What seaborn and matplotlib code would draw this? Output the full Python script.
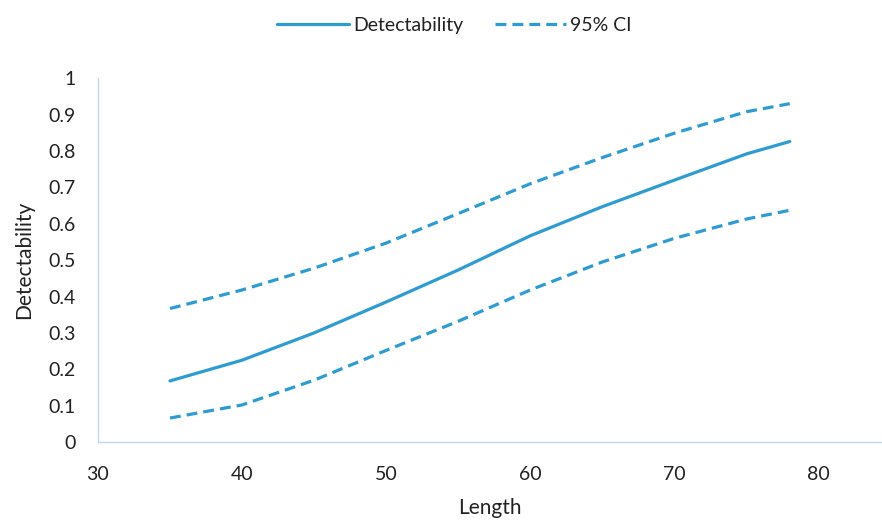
import matplotlib
matplotlib.use("Agg")
import matplotlib.pyplot as plt
import seaborn as sns
import pandas as pd

# values
length = [35, 40, 45, 50, 55, 60, 65, 70, 75, 78]
detect = [0.168, 0.225, 0.300, 0.385, 0.473, 0.567, 0.647, 0.720, 0.792, 0.826]
ci_upper = [0.367, 0.418, 0.478, 0.547, 0.628, 0.710, 0.782, 0.849, 0.908, 0.930]
ci_lower = [0.066, 0.102, 0.170, 0.252, 0.332, 0.418, 0.495, 0.560, 0.613, 0.637]

df = pd.DataFrame({"Length": length, "Detectability": detect,
                   "upper": ci_upper, "lower": ci_lower})

sns.set_style("white")
plt.rcParams['font.family'] = ['Lato', 'DejaVu Sans']

blue = "#2E9BD2"
spine_col = "#BFD8EC"
text_col = "#222222"

fig = plt.figure(figsize=(8.82, 5.25), dpi=100)
ax = fig.add_axes([0.111, 0.158, 0.889, 0.693])

sns.lineplot(data=df, x="Length", y="Detectability", ax=ax, color=blue,
             linewidth=2.3, label="Detectability")
sns.lineplot(data=df, x="Length", y="upper", ax=ax, color=blue,
             linewidth=2.3, dashes=(3.4, 1.9), label="95% CI")
sns.lineplot(data=df, x="Length", y="lower", ax=ax, color=blue,
             linewidth=2.3, dashes=(3.4, 1.9), label="_nolegend_")

ax.set_xlim(30, 84.4)
ax.set_ylim(0, 1)
ax.set_xticks([30, 40, 50, 60, 70, 80])
ax.set_yticks([i / 10 for i in range(11)])
ax.set_yticklabels(["0"] + [f"0.{i}" for i in range(1, 10)] + ["1"])
ax.tick_params(length=0, labelsize=14, colors=text_col)
ax.tick_params(axis="x", pad=17)
ax.tick_params(axis="y", pad=16)

ax.set_xlabel("Length", fontsize=15, color=text_col, labelpad=11)
ax.set_ylabel("Detectability", fontsize=15, color=text_col, labelpad=10)

for s in ["top", "right"]:
    ax.spines[s].set_visible(False)
for s in ["left", "bottom"]:
    ax.spines[s].set_color(spine_col)
    ax.spines[s].set_linewidth(1.0)

leg = ax.legend(loc="center", bbox_to_anchor=(0.455, 1.146),
                ncol=2, frameon=False, fontsize=14, handlelength=3.7,
                handletextpad=0.2, columnspacing=1.6)
for t in leg.get_texts():
    t.set_color(text_col)

fig.savefig("out.png", dpi=100, facecolor="white")
